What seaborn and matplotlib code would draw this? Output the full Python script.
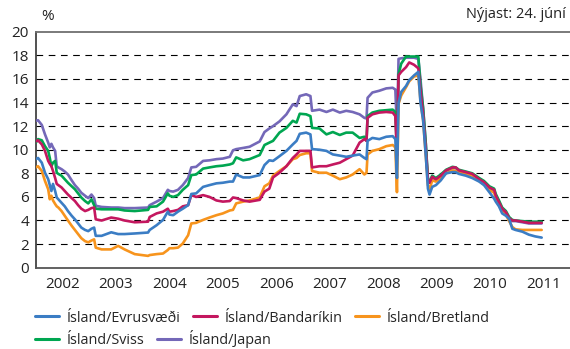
import numpy as np
import pandas as pd
import matplotlib
matplotlib.use("Agg")
import matplotlib.pyplot as plt
from matplotlib.lines import Line2D
import seaborn as sns

# ------------------------------------------
# Data: interest rate differential (%)
# ------------------------------------------

ar = [
    2002.00, 2002.04, 2002.11, 2002.17, 2002.23, 2002.26, 2002.29, 2002.32, 2002.36, 2002.39,
    2002.42, 2002.48, 2002.54, 2002.60, 2002.67, 2002.73, 2002.79, 2002.85, 2002.92, 2002.98,
    2003.04, 2003.09, 2003.12, 2003.23, 2003.41, 2003.54, 2003.66, 2003.85, 2004.10, 2004.13,
    2004.26, 2004.38, 2004.47, 2004.50, 2004.57, 2004.66, 2004.75, 2004.85, 2004.91, 2005.00,
    2005.13, 2005.25, 2005.38, 2005.50, 2005.63, 2005.69, 2005.75, 2005.88, 2006.00, 2006.19,
    2006.28, 2006.37,
    2006.44, 2006.56, 2006.69, 2006.81, 2006.88, 2006.94, 2007.06, 2007.14, 2007.17, 2007.31,
    2007.44, 2007.56, 2007.69, 2007.81, 2007.93, 2008.06, 2008.15, 2008.19, 2008.21,
    2008.30, 2008.43, 2008.56, 2008.68, 2008.73, 2008.76, 2008.79, 2008.84, 2008.93, 2008.99,
    2009.08, 2009.16, 2009.20, 2009.25, 2009.30, 2009.34, 2009.37,
    2009.42, 2009.49, 2009.58, 2009.68, 2009.80, 2009.86, 2009.92, 2010.05, 2010.17, 2010.30,
    2010.39, 2010.49, 2010.58, 2010.61, 2010.67, 2010.73, 2010.80, 2010.86, 2010.92, 2010.98,
    2011.11, 2011.23, 2011.35, 2011.47,
]

evrusvaedi = [
    9.2, 9.3, 8.9, 8.05, 7.5, 7.0, 6.5, 7.1, 6.5, 5.95,
    5.8, 5.5, 5.2, 4.8, 4.4, 4.1, 3.75, 3.4, 3.2, 3.1,
    3.3, 3.4, 2.7, 2.7, 3.0, 2.85, 2.85, 2.9, 2.98, 3.2,
    3.6, 4.05, 4.75, 4.5, 4.45, 4.75, 5.0, 5.3, 6.25, 6.3,
    6.85, 7.0, 7.15, 7.2, 7.3, 7.3, 7.9, 7.65, 7.65, 7.85,
    8.7, 9.1,
    9.05, 9.45, 9.9, 10.45, 10.75, 11.35, 11.45, 11.3, 10.05, 10.0,
    9.9, 9.6, 9.5, 9.4, 9.5, 9.6, 9.3, 9.2, 10.75,
    11.0, 10.9, 11.1, 11.15, 10.9, 7.6, 14.0, 14.9, 15.4, 15.9,
    16.3, 16.6, 14.0, 12.5, 9.5, 6.7, 6.2,
    6.85, 7.0, 7.4, 8.0, 8.1, 8.1, 7.95, 7.8, 7.6, 7.3,
    7.0, 6.4, 5.85, 5.6, 5.2, 4.6, 4.4, 4.15, 3.3, 3.2,
    3.05, 2.8, 2.65, 2.55,
]

bandarikin = [
    10.7, 10.8, 10.45, 9.9, 9.05, 8.8, 8.6, 8.2, 7.6, 7.1,
    7.0, 6.8, 6.5, 6.2, 5.9, 5.65, 5.3, 5.0, 4.8, 4.9,
    5.05, 5.1, 4.1, 4.0, 4.25, 4.15, 4.0, 3.85, 3.9, 4.3,
    4.6, 4.75, 5.0, 4.75, 4.8, 4.9, 5.2, 5.3, 6.15, 6.0,
    6.15, 6.0, 5.7, 5.6, 5.65, 5.95, 5.9, 5.7, 5.6, 5.75,
    6.45, 6.7,
    7.65, 8.05, 8.6, 9.3, 9.6, 9.9, 9.9, 9.9, 8.5, 8.6,
    8.6, 8.75, 8.9, 9.2, 9.5, 10.6, 10.9, 10.75, 12.7,
    13.0, 13.15, 13.2, 13.15, 12.85, 9.5, 16.3, 16.6, 17.0, 17.4,
    17.2, 16.9, 15.0, 13.0, 10.0, 7.4, 7.2,
    7.7, 7.5, 7.8, 8.25, 8.5, 8.5, 8.25, 8.1, 7.95, 7.5,
    7.25, 6.8, 6.6, 6.1, 5.55, 5.0, 4.7, 4.2, 4.0, 4.0,
    3.9, 3.8, 3.8, 3.8,
]

bretland = [
    8.5, 8.6, 8.2, 7.35, 6.65, 5.8, 6.1, 5.7, 5.4, 5.2,
    5.1, 4.8, 4.4, 4.0, 3.55, 3.2, 2.85, 2.5, 2.25, 2.15,
    2.3, 2.4, 1.7, 1.55, 1.55, 1.85, 1.55, 1.15, 1.0, 1.07,
    1.15, 1.2, 1.5, 1.65, 1.65, 1.7, 2.05, 2.75, 3.75, 3.8,
    4.05, 4.25, 4.45, 4.6, 4.85, 4.9, 5.45, 5.6, 5.7, 5.95,
    6.9, 7.15,
    7.8, 8.2, 8.6, 9.2, 9.3, 9.55, 9.7, 9.7, 8.2, 8.05,
    8.05, 7.8, 7.5, 7.65, 7.9, 8.35, 7.9, 8.05, 9.6,
    9.9, 10.05, 10.3, 10.4, 10.2, 6.4, 13.9, 14.6, 15.3, 15.8,
    16.2, 16.3, 14.2, 12.5, 9.5, 7.0, 6.6,
    7.4, 7.3, 7.6, 8.0, 8.25, 8.2, 8.05, 7.95, 7.8, 7.35,
    7.05, 6.6, 6.35, 5.9, 5.3, 4.8, 4.5, 3.95, 3.45, 3.25,
    3.2, 3.2, 3.2, 3.2,
]

sviss = [
    10.6, 10.9, 10.8, 10.3, 9.9, 9.3, 8.6, 8.9, 9.05, 8.05,
    7.95, 7.8, 7.5, 7.2, 6.9, 6.65, 6.3, 5.95, 5.65, 5.45,
    5.8, 5.3, 5.0, 4.95, 4.95, 4.95, 4.85, 4.8, 4.9, 5.15,
    5.2, 5.6, 6.3, 6.1, 6.0, 6.15, 6.6, 7.0, 7.85, 7.9,
    8.4, 8.5, 8.6, 8.65, 8.75, 8.85, 9.35, 9.1, 9.2, 9.55,
    10.4, 10.6,
    10.75, 11.45, 11.85, 12.45, 12.3, 13.05, 13.0, 12.85, 11.85, 11.8,
    11.3, 11.5, 11.25, 11.45, 11.45, 11.0, 11.1, 10.75, 12.85,
    13.15, 13.3, 13.35, 13.4, 13.2, 9.8, 16.4, 17.3, 17.9, 17.9,
    17.9, 17.9, 15.5, 13.5, 10.5, 7.5, 7.3,
    7.8, 7.6, 7.9, 8.3, 8.55, 8.5, 8.3, 8.15, 8.0, 7.6,
    7.35, 6.9, 6.7, 6.25, 5.7, 5.1, 4.8, 4.3, 4.05, 4.0,
    3.95, 3.9, 3.9, 3.9,
]

japan = [
    12.45, 12.5, 12.1, 11.3, 10.6, 10.2, 10.5, 10.2, 9.9, 8.6,
    8.5, 8.35, 8.15, 7.9, 7.4, 7.0, 6.7, 6.35, 6.1, 5.9,
    6.2, 5.9, 5.25, 5.15, 5.1, 5.1, 5.05, 5.05, 5.1, 5.3,
    5.6, 5.9, 6.6, 6.5, 6.45, 6.6, 7.0, 7.6, 8.5, 8.55,
    9.05, 9.1, 9.2, 9.25, 9.4, 9.95, 10.05, 10.15, 10.25, 10.7,
    11.5, 11.8,
    12.0, 12.4, 13.0, 13.85, 13.7, 14.55, 14.7, 14.55, 13.3, 13.4,
    13.2, 13.4, 13.15, 13.3, 13.2, 13.0, 12.7, 12.65, 14.4,
    14.85, 15.0, 15.2, 15.25, 15.1, 11.6, 17.7, 17.75, 17.8, 17.8,
    17.8, 17.7, 16.0, 13.5, 10.5, 7.4, 7.2,
    7.65, 7.45, 7.75, 8.2, 8.45, 8.45, 8.2, 8.05, 7.9, 7.45,
    7.2, 6.75, 6.55, 6.05, 5.5, 4.95, 4.65, 4.15, 3.95, 3.95,
    3.85, 3.75, 3.75, 3.75,
]

series_names = ["Ísland/Evrusvæði", "Ísland/Bandaríkin", "Ísland/Bretland",
                "Ísland/Sviss", "Ísland/Japan"]
colors = ["#3b7dc4", "#c4175f", "#f7941d", "#00a651", "#7468b8"]

year_labels = ["2002", "2003", "2004", "2005", "2006",
               "2007", "2008", "2009", "2010", "2011"]

# ------------------------------------------
# Long-form table for seaborn
# ------------------------------------------

df = pd.DataFrame({
    "ar": np.tile(ar, 5),
    "gildi": np.concatenate([evrusvaedi, bandarikin, bretland, sviss, japan]),
    "rod": np.repeat(series_names, len(ar)),
})

sns.set_style("white")
plt.rcParams['font.family'] = ['Open Sans', 'DejaVu Sans']

fig = plt.figure(figsize=(5.7, 3.49), dpi=100)
ax = fig.add_axes([0.063, 0.233, 0.937, 0.676])

# dashed grid lines first, under the series
for yv in range(2, 20, 2):
    ax.axhline(yv, color="black", linewidth=0.8, linestyle=(0, (6, 5)), zorder=1)

palette = dict(zip(series_names, colors))
sns.lineplot(
    data=df, x="ar", y="gildi", hue="rod",
    hue_order=series_names[::-1], palette=palette,
    linewidth=1.9, legend=False, errorbar=None, ax=ax, zorder=3
)

ax.set_xlim(2002, 2012)
ax.set_ylim(0, 20)
ax.set_xlabel("")
ax.set_ylabel("")

ax.set_yticks(range(0, 21, 2))
ax.tick_params(axis="y", length=0, pad=5, labelsize=11, labelcolor="#222")

year_edges = np.arange(2002, 2012)
ax.set_xticks(year_edges)
ax.set_xticklabels([])
ax.set_xticks(year_edges + 0.5, minor=True)
ax.set_xticklabels(year_labels, minor=True)
ax.tick_params(axis="x", which="major", length=6, width=1, color="#555", direction="out")
ax.tick_params(axis="x", which="minor", length=0, pad=7, labelsize=11, labelcolor="#222")

ax.spines["right"].set_visible(False)
ax.spines["top"].set_color("#707070")
ax.spines["top"].set_linewidth(1.3)
ax.spines["left"].set_color("#333")
ax.spines["left"].set_linewidth(1.2)
ax.spines["bottom"].set_color("#555")
ax.spines["bottom"].set_linewidth(1.3)

fig.text(41 / 570, 1 - 17 / 349, "%", ha="left", va="center", fontsize=11, color="#222")
fig.text(566 / 570, 1 - 15 / 349, "Nýjast: 24. júní", ha="right", va="center",
         fontsize=10.5, color="#222")

# Legend in two rows, left aligned
handles = [Line2D([0], [0], color=c, linewidth=2.2) for c in colors]
leg_kw = dict(frameon=False, fontsize=10.4, handlelength=1.65, handletextpad=0.55,
              columnspacing=0.85, borderpad=0, borderaxespad=0, loc="center left")
leg1 = fig.legend(handles[:3], series_names[:3], ncol=3,
                  bbox_to_anchor=(35 / 570, 1 - 318 / 349), **leg_kw)
leg2 = fig.legend(handles[3:], series_names[3:], ncol=2,
                  bbox_to_anchor=(35 / 570, 1 - 339 / 349), **leg_kw)

fig.savefig("out.png", dpi=100)
